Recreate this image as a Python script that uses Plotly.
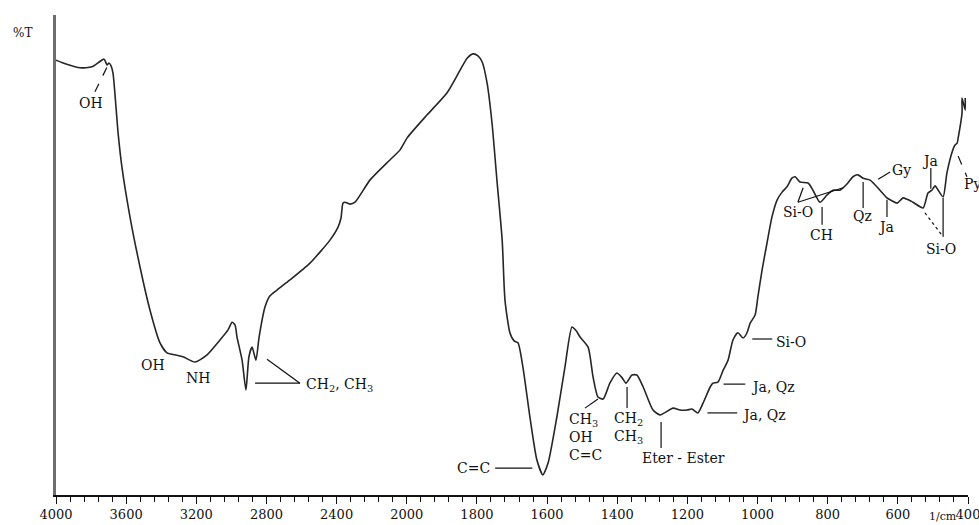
import plotly.graph_objects as go

# FTIR spectrum: wavenumber (1/cm) and transmittance (%T)
wavenumber = [4000, 3943, 3863, 3795, 3726, 3709, 3698, 3686, 3675, 3646, 3624, 3578, 3521, 3464,
              3407, 3367, 3321, 3276, 3207, 3139, 3065, 3019, 2996, 2979, 2968, 2939, 2917, 2900,
              2882, 2860, 2842, 2808, 2780, 2740, 2666, 2552, 2438, 2392, 2375, 2364, 2352, 2324,
              2295, 2210, 2096, 2038, 1999, 1942, 1885, 1848, 1828, 1811, 1797, 1785, 1771, 1757,
              1743, 1728, 1720, 1706, 1694, 1683, 1669, 1649, 1629, 1612, 1597, 1572, 1549, 1529,
              1517, 1506, 1483, 1469, 1455, 1440, 1421, 1401, 1386, 1375, 1358, 1344, 1326, 1298,
              1278, 1241, 1221, 1201, 1187, 1170, 1155, 1135, 1127, 1113, 1098, 1084, 1070, 1056,
              1041, 1030, 1021, 1007, 999, 987, 973, 959, 944, 930, 916, 902, 893, 879, 856, 842,
              822, 802, 785, 765, 745, 728, 714, 699, 679, 651, 631, 617, 602, 585, 570, 557, 528,
              514, 503, 494, 485, 471, 460, 445, 437, 431, 428, 417, 417, 408, 408]
transmittance = [90.6, 89.8, 89.0, 89.2, 90.8, 89.6, 90.0, 89.4, 87.9, 75.4, 68.3, 57.9, 47.5, 38.5,
                 31.7, 29.6, 29.2, 28.8, 27.7, 29.2, 32.3, 34.4, 36.0, 35.4, 32.9, 28.1, 21.9, 28.8,
                 30.8, 28.1, 32.9, 39.2, 41.5, 42.7, 44.8, 48.3, 53.1, 55.8, 57.7, 60.8, 61.0, 60.6,
                 61.0, 65.6, 69.8, 71.9, 74.4, 79.2, 83.8, 88.5, 91.0, 91.9, 91.5, 90.2, 85.8, 77.5,
                 65.6, 53.1, 40.6, 33.8, 32.1, 31.7, 26.7, 16.3, 7.3, 4.2, 6.7, 16.3, 26.7, 35.0,
                 34.2, 32.9, 30.8, 24.6, 20.4, 20.0, 23.3, 25.4, 24.4, 23.3, 25.0, 25.0, 22.5, 17.7,
                 16.7, 18.1, 17.7, 17.7, 17.9, 17.1, 19.2, 22.5, 23.3, 23.5, 26.0, 28.1, 32.3, 33.8,
                 32.7, 33.8, 35.8, 37.5, 41.3, 46.9, 52.5, 57.9, 61.5, 63.1, 64.2, 66.0, 66.3, 65.2,
                 65.0, 63.5, 61.0, 62.5, 63.5, 63.5, 64.8, 66.3, 66.7, 66.0, 65.6, 63.5, 61.9, 61.3,
                 60.8, 61.9, 61.5, 61.0, 59.8, 62.9, 63.5, 64.4, 63.5, 62.1, 67.1, 71.5, 72.9, 73.3,
                 74.4, 79.6, 82.7, 80.2, 82.7]

tick_wavenumbers = [4000, 3600, 3200, 2800, 2400, 2000, 1800, 1600, 1400, 1200, 1000, 800, 600, 400]


def to_axis(w):
    # Split scale: 400 1/cm per division above 2000, 200 1/cm per division below
    if w >= 2000:
        return (4000 - w) / 400.0
    return 5 + (2000 - w) / 200.0


x_vals = [to_axis(w) for w in wavenumber]

fig = go.Figure()
fig.add_trace(go.Scatter(
    x=x_vals, y=transmittance, mode="lines",
    line=dict(color="#262626", width=1.6, shape="spline", smoothing=0.6),
    hoverinfo="skip", showlegend=False,
))

# Band assignments: (text, wavenumber, %T, horizontal anchor)
labels = [
    ("OH", 3800, 81.7, "center"),
    ("OH", 3447, 27.1, "center"),
    ("NH", 3190, 24.4, "center"),
    ("CH<sub>2</sub>, CH<sub>3</sub>", 2585, 22.9, "left"),
    ("C=C", 1811, 5.6, "center"),
    ("CH<sub>3</sub><br>OH<br>C=C", 1543, 12.0, "left"),
    ("CH<sub>2</sub><br>CH<sub>3</sub>", 1415, 13.9, "left"),
    ("Eter - Ester", 1210, 7.7, "center"),
    ("Ja, Qz", 1050, 16.7, "left"),
    ("Ja, Qz", 1024, 22.5, "left"),
    ("Si-O", 953, 31.9, "left"),
    ("Si-O", 885, 59.0, "center"),
    ("CH", 819, 54.2, "center"),
    ("Qz", 702, 58.1, "center"),
    ("Gy", 622, 67.7, "left"),
    ("Ja", 634, 55.8, "center"),
    ("Ja", 508, 69.6, "center"),
    ("Si-O", 477, 51.2, "center"),
    ("Py", 417, 64.8, "left"),
]

# Leader lines: (w0, T0, w1, T1, dash)
leaders = [
    (3778, 84.0, 3703, 89.6, "dash"),
    (2865, 23.3, 2609, 23.3, "solid"),
    (2797, 28.3, 2609, 23.3, "solid"),
    (1748, 5.6, 1642, 5.6, "solid"),
    (1492, 18.1, 1455, 20.0, "solid"),
    (1372, 22.5, 1372, 18.1, "solid"),
    (1275, 15.2, 1275, 9.8, "solid"),
    (1143, 17.1, 1058, 17.1, "solid"),
    (1097, 23.1, 1035, 23.1, "solid"),
    (1015, 32.5, 958, 32.5, "solid"),
    (870, 64.0, 885, 61.0, "solid"),
    (885, 61.0, 756, 64.0, "solid"),
    (816, 60.0, 816, 56.3, "solid"),
    (699, 65.2, 699, 59.8, "solid"),
    (656, 65.8, 622, 67.3, "solid"),
    (631, 61.5, 631, 57.9, "solid"),
    (506, 68.1, 506, 63.8, "solid"),
    (523, 58.8, 471, 53.8, "dot"),
    (471, 61.9, 471, 53.8, "solid"),
    (428, 70.6, 403, 66.3, "dash"),
]

label_font = dict(family="DejaVu Serif", size=14, color="#111")

annotations = []
for text, w, t, anchor in labels:
    annotations.append(dict(
        x=to_axis(w), y=t, xref="x", yref="y", text=text, showarrow=False,
        xanchor=anchor, yanchor="middle", align="left", font=label_font,
    ))

annotations.append(dict(
    x=(22 - 56) / 912, y=(495 - 33) / 480, xref="paper", yref="paper", text="%T",
    showarrow=False, xanchor="center", yanchor="middle",
    font=dict(family="DejaVu Serif", size=12, color="#111"),
))
annotations.append(dict(
    x=(943 - 56) / 912, y=(495 - 516) / 480, xref="paper", yref="paper", text="1/cm",
    showarrow=False, xanchor="center", yanchor="middle",
    font=dict(family="DejaVu Serif", size=11, color="#111"),
))

shapes = []
for w0, t0, w1, t1, dash in leaders:
    shapes.append(dict(
        type="line", xref="x", yref="y",
        x0=to_axis(w0), y0=t0, x1=to_axis(w1), y1=t1,
        line=dict(color="#111", width=1.2, dash=dash),
    ))

fig.update_layout(
    width=979, height=525,
    margin=dict(l=56, r=11, t=15, b=30),
    paper_bgcolor="white", plot_bgcolor="white",
    annotations=annotations, shapes=shapes,
    xaxis=dict(
        range=[0, 13], tickmode="array",
        tickvals=[to_axis(w) for w in tick_wavenumbers],
        ticktext=[str(w) for w in tick_wavenumbers],
        ticks="outside", ticklen=7, tickwidth=1.2, tickcolor="#111",
        ticklabeloverflow="allow", automargin=False,
        showline=True, linecolor="#111", linewidth=1.5,
        showgrid=False, zeroline=False,
        tickfont=dict(family="DejaVu Serif", size=13, color="#111"),
        minor=dict(tick0=0, dtick=0.2, ticks="outside", ticklen=5, tickwidth=1, tickcolor="#111"),
    ),
    yaxis=dict(
        range=[0, 100], showticklabels=False, ticks="", automargin=False,
        showline=True, linecolor="#6e6e6e", linewidth=2.5,
        showgrid=False, zeroline=False,
    ),
)

fig.write_html("out.html")
